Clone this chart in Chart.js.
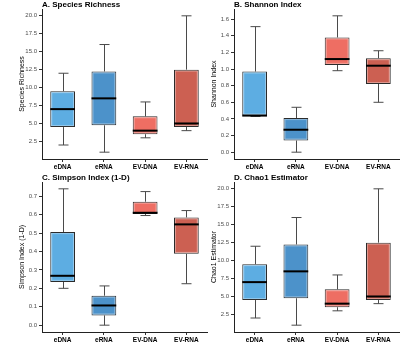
<!DOCTYPE html>
<html>
<head>
<meta charset="utf-8">
<script src="https://cdn.jsdelivr.net/npm/chart.js@4.4.1/dist/chart.umd.min.js"></script>
<style>
  html, body { margin: 0; padding: 0; background: #fff; }
  #wrap { position: relative; width: 400px; height: 342px; overflow: hidden; }
  canvas { position: absolute; }
</style>
</head>
<body>
<div id="wrap">
  <canvas id="panelA" width="208" height="171" style="left:0;top:0"></canvas>
  <canvas id="panelB" width="208" height="171" style="left:192px;top:0"></canvas>
  <canvas id="panelC" width="208" height="171" style="left:0;top:171px"></canvas>
  <canvas id="panelD" width="208" height="171" style="left:192px;top:171px"></canvas>
</div>
<script>
const groups = ["eDNA", "eRNA", "EV-DNA", "EV-RNA"];
const fills = ["#5DADE2", "#4C92CA", "#EE6E63", "#CC6052"];

// five-number summaries
const richnessMin = [2, 1, 3, 4];
const richnessQ1 = [4.5, 4.75, 3.5, 4.5];
const richnessMed = [7, 8.5, 4, 5];
const richnessQ3 = [9.5, 12.25, 6, 12.5];
const richnessMax = [12, 16, 8, 20];
const richnessTicks = [2.5, 5, 7.5, 10, 12.5, 15, 17.5, 20];

const shannonMin = [0.43, 0.0, 0.98, 0.6];
const shannonQ1 = [0.44, 0.14, 1.05, 0.82];
const shannonMed = [0.44, 0.27, 1.12, 1.04];
const shannonQ3 = [0.97, 0.41, 1.38, 1.13];
const shannonMax = [1.51, 0.54, 1.64, 1.22];
const shannonTicks = [0, 0.2, 0.4, 0.6, 0.8, 1.0, 1.2, 1.4, 1.6];

const simpsonMin = [0.2, 0.0, 0.595, 0.225];
const simpsonQ1 = [0.235, 0.053, 0.603, 0.387];
const simpsonMed = [0.268, 0.107, 0.61, 0.547];
const simpsonQ3 = [0.505, 0.16, 0.67, 0.585];
const simpsonMax = [0.74, 0.213, 0.725, 0.622];
const simpsonTicks = [0, 0.1, 0.2, 0.3, 0.4, 0.5, 0.6, 0.7];

const chaoMin = [2, 1, 3, 4];
const chaoQ1 = [4.5, 4.75, 3.5, 4.5];
const chaoMed = [7, 8.5, 4, 5];
const chaoQ3 = [9.5, 12.25, 6, 12.5];
const chaoMax = [12, 16, 8, 20];
const chaoTicks = [2.5, 5, 7.5, 10, 12.5, 15, 17.5, 20];

const FONT = "'Liberation Sans', Arial, sans-serif";

const boxPlot = {
  id: "boxPlot",
  beforeDatasetsDraw(chart) {
    const s = chart.options.plugins.boxPlot;
    const y = chart.scales.y;
    const ctx = chart.ctx;
    ctx.save();
    ctx.strokeStyle = "#4a4a4a";
    ctx.lineWidth = 1;
    chart.getDatasetMeta(0).data.forEach((bar, i) => {
      const x = Math.round(bar.x) + 0.5;
      const cap = 5;
      const lo = y.getPixelForValue(s.low[i]);
      const hi = y.getPixelForValue(s.high[i]);
      ctx.beginPath();
      ctx.moveTo(x, lo);
      ctx.lineTo(x, y.getPixelForValue(s.q1[i]));
      ctx.moveTo(x, y.getPixelForValue(s.q3[i]));
      ctx.lineTo(x, hi);
      ctx.moveTo(x - cap, lo);
      ctx.lineTo(x + cap, lo);
      ctx.moveTo(x - cap, hi);
      ctx.lineTo(x + cap, hi);
      ctx.stroke();
    });
    ctx.restore();
  },
  afterDatasetsDraw(chart) {
    const s = chart.options.plugins.boxPlot;
    const y = chart.scales.y;
    const ctx = chart.ctx;
    ctx.save();
    chart.getDatasetMeta(0).data.forEach((bar, i) => {
      const left = bar.x - bar.width / 2;
      const top = Math.min(bar.y, bar.base);
      const h = Math.abs(bar.base - bar.y);
      // faint light rim inside the dark outline
      if (h > 3) {
        ctx.strokeStyle = "rgba(255,255,255,0.35)";
        ctx.lineWidth = 1;
        ctx.strokeRect(left + 1.5, top + 1.5, bar.width - 3, h - 3);
      }
      const m = y.getPixelForValue(s.median[i]);
      ctx.strokeStyle = "#000";
      ctx.lineWidth = 2;
      ctx.beginPath();
      ctx.moveTo(left, m);
      ctx.lineTo(left + bar.width, m);
      ctx.stroke();
    });
    ctx.restore();
  },
  afterDraw(chart) {
    const s = chart.options.plugins.boxPlot;
    const ctx = chart.ctx;
    ctx.save();
    ctx.font = "bold 8px " + FONT;
    ctx.fillStyle = "#000";
    ctx.textBaseline = "middle";
    ctx.fillText(s.title, chart.chartArea.left, chart.chartArea.top - 4.5);
    ctx.restore();
  },
};

function makePanel(id, title, yTitle, low, q1, median, q3, high, ticks, yMin, yMax, topPad, xHeight) {
  return new Chart(document.getElementById(id), {
    type: "bar",
    data: {
      labels: groups,
      datasets: [
        {
          data: groups.map((g, i) => [q1[i], q3[i]]),
          backgroundColor: fills,
          borderColor: "#2b2b2b",
          borderWidth: 1,
          borderSkipped: false,
          categoryPercentage: 1,
          barPercentage: 0.6,
        },
      ],
    },
    options: {
      responsive: false,
      animation: false,
      layout: { padding: { top: topPad, right: 1, left: 0, bottom: 0 } },
      plugins: {
        legend: { display: false },
        tooltip: { enabled: false },
        boxPlot: { title, low, q1, median, q3, high },
      },
      scales: {
        x: {
          offset: true,
          grid: { display: true, offset: false, drawOnChartArea: false, drawTicks: true, tickLength: 3, color: "#333" },
          border: { display: true, color: "#222", width: 1 },
          ticks: { color: "#000", font: { family: FONT, size: 6.5, weight: "bold" }, padding: 1, maxRotation: 0 },
          afterFit: (scale) => { scale.height = xHeight; },
        },
        y: {
          min: yMin,
          max: yMax,
          afterBuildTicks: (scale) => { scale.ticks = ticks.map((v) => ({ value: v })); },
          grid: { display: true, drawOnChartArea: false, drawTicks: true, tickLength: 3, color: "#333" },
          border: { display: true, color: "#222", width: 1 },
          ticks: {
            color: "#4d4d4d",
            font: { family: FONT, size: 6 },
            padding: 2,
            callback: (v) => Number(v).toFixed(1),
          },
          title: { display: true, text: yTitle, color: "#000", font: { family: FONT, size: 7 }, padding: { top: 18, bottom: 0 } },
          afterFit: (scale) => { scale.width = 42; },
        },
      },
    },
    plugins: [boxPlot],
  });
}

makePanel("panelA", "A. Species Richness", "Species Richness",
  richnessMin, richnessQ1, richnessMed, richnessQ3, richnessMax, richnessTicks, 0.05, 20.95, 9, 12);
makePanel("panelB", "B. Shannon Index", "Shannon Index",
  shannonMin, shannonQ1, shannonMed, shannonQ3, shannonMax, shannonTicks, -0.082, 1.722, 9, 12);
makePanel("panelC", "C. Simpson Index (1-D)", "Simpson Index (1-D)",
  simpsonMin, simpsonQ1, simpsonMed, simpsonQ3, simpsonMax, simpsonTicks, -0.037, 0.777, 11, 10);
makePanel("panelD", "D. Chao1 Estimator", "Chao1 Estimator",
  chaoMin, chaoQ1, chaoMed, chaoQ3, chaoMax, chaoTicks, 0.05, 20.95, 11, 10);
</script>
</body>
</html>
